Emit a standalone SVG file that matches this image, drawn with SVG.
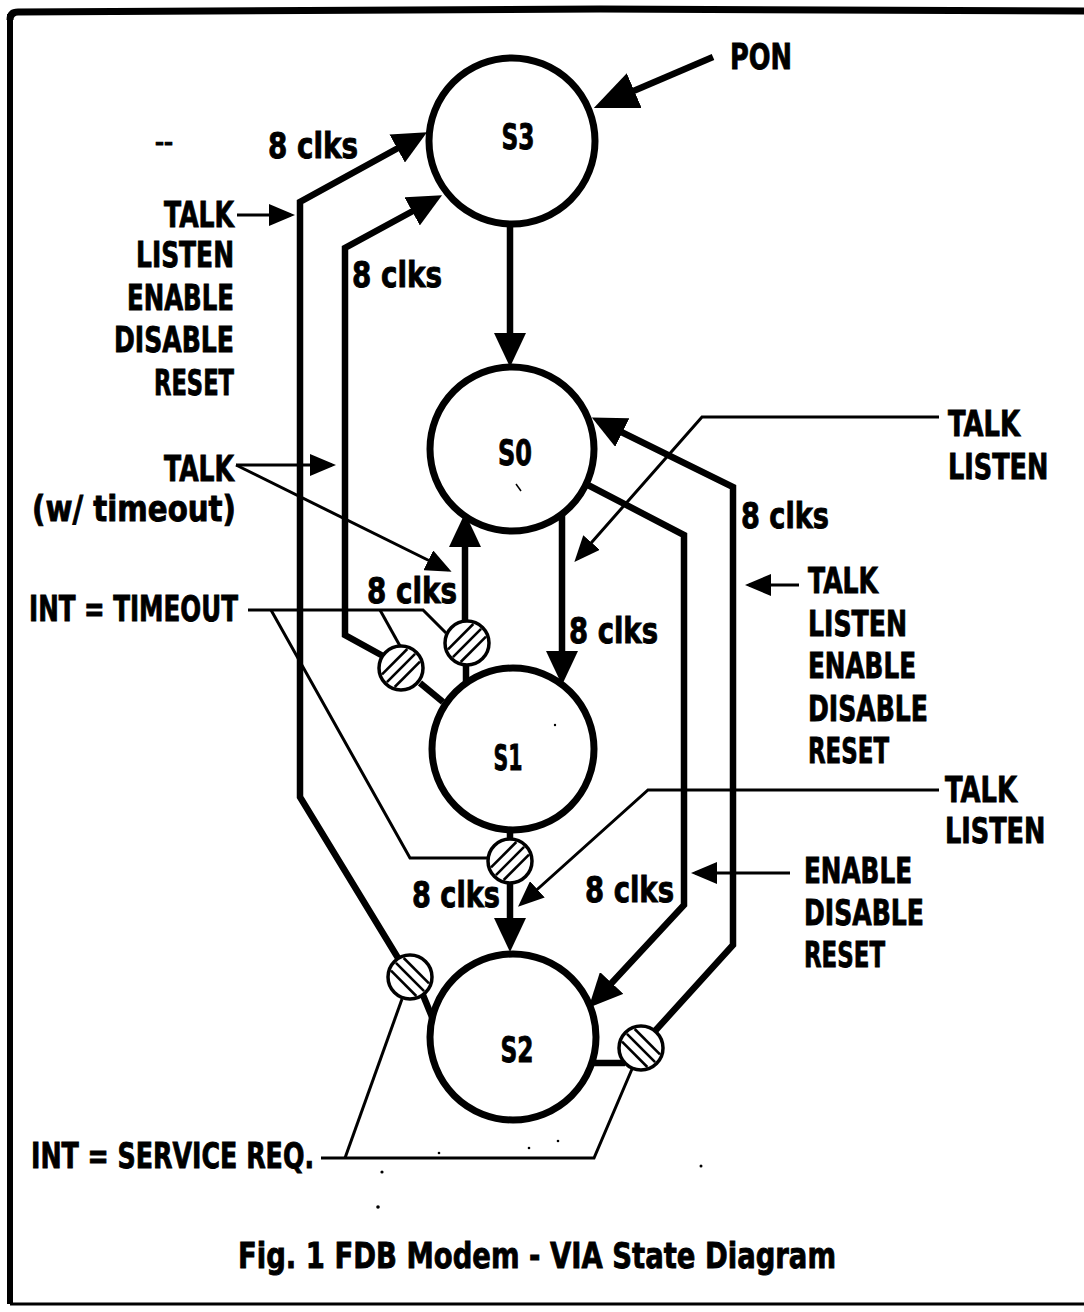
<svg xmlns="http://www.w3.org/2000/svg" xmlns:xlink="http://www.w3.org/1999/xlink" width="1084" height="1312" viewBox="0 0 1084 1312">
<style>
.big{fill:#fff;stroke:#000;stroke-width:7}
.hc{fill:#fff;stroke:#000;stroke-width:3.5}
.thick{fill:none;stroke:#000;stroke-width:6.5;stroke-linejoin:miter;stroke-miterlimit:10}
.thin{fill:none;stroke:#000;stroke-width:3}
.hl line{stroke:#000;stroke-width:2.6}
.frame{fill:none;stroke:#000}
text{font-family:'DejaVu Sans','Liberation Sans',sans-serif;font-weight:bold;font-size:35px;fill:#000;stroke:#000;stroke-width:0.9}
.mid{text-anchor:middle}
.end{text-anchor:end}
</style>
<defs>
<marker id="ah" viewBox="0 0 34 32" refX="26" refY="16" markerWidth="34" markerHeight="32" markerUnits="userSpaceOnUse" orient="auto"><path d="M0,0 L34,16 L0,32 z" fill="#000"/></marker>
<marker id="at" viewBox="0 0 26 22" refX="22" refY="11" markerWidth="26" markerHeight="22" markerUnits="userSpaceOnUse" orient="auto"><path d="M0,0 L26,11 L0,22 z" fill="#000"/></marker>
<marker id="ab" viewBox="0 0 44 38" refX="34" refY="19" markerWidth="44" markerHeight="38" markerUnits="userSpaceOnUse" orient="auto"><path d="M0,0 L44,19 L0,38 z" fill="#000"/></marker>
<g id="hf" class="hl"><line x1="-14.1" y1="14.1" x2="14.1" y2="-14.1"/><line x1="-6.3" y1="19" x2="19" y2="-6.3"/><line x1="-19" y1="6.3" x2="6.3" y2="-19"/></g>
<g id="hb" class="hl"><line x1="14.1" y1="14.1" x2="-14.1" y2="-14.1"/><line x1="6.3" y1="19" x2="-19" y2="-6.3"/><line x1="19" y1="6.3" x2="-6.3" y2="-19"/></g>
</defs>
<rect width="1084" height="1312" fill="#fff"/>
<g id="frame">
<path class="frame" stroke-width="7" d="M10,20 Q10,12 18,12 L600,9 L1084,11"/>
<path class="frame" stroke-width="6" d="M10,14 V1304"/>
<path class="frame" stroke-width="3" d="M10,1304 H1084"/>
</g>
<g id="connectors">
<path class="thick" stroke-width="7" marker-end="url(#ab)" d="M713,57 L603,104"/>
<path class="thick" marker-end="url(#ah)" d="M510,226 V359"/>
<path class="thick" marker-end="url(#ah)" d="M398,958 L300,797 V202 L420,136"/>
<path class="thick" d="M432,1017 L423,995"/>
<path class="thick" marker-end="url(#ah)" d="M383,656 L345,635 V248 L435,199"/>
<path class="thick" d="M443,702 L420,683"/>
<path class="thick" marker-end="url(#ah)" d="M465,621 V521"/>
<path class="thick" d="M466,684 V664"/>
<path class="thick" marker-end="url(#ah)" d="M562,514 V677"/>
<path class="thick" d="M510,829 V840"/>
<path class="thick" marker-end="url(#ah)" d="M510,882 V944"/>
<path class="thick" marker-end="url(#ah)" d="M586,484 L684,535 V905 L594,1002"/>
<path class="thick" d="M590,1063 H625"/>
<path class="thick" marker-end="url(#ah)" d="M655,1031 L733,945 V487 L599,421"/>
<path class="thin" marker-end="url(#at)" d="M237,215 H291"/>
<path class="thin" marker-end="url(#at)" d="M236,465 H332"/>
<path class="thin" marker-end="url(#at)" d="M236,465 L448,570"/>
<path class="thin" marker-end="url(#at)" d="M939,417 H702 L577,559"/>
<path class="thin" marker-end="url(#at)" d="M799,585 H749"/>
<path class="thin" marker-end="url(#at)" d="M939,790 H648 L521,904"/>
<path class="thin" marker-end="url(#at)" d="M790,873 H695"/>
<path class="thin" d="M248,610 H423 L446,633"/>
<path class="thin" d="M380,610 L400,646"/>
<path class="thin" d="M271,610 L410,858 H489"/>
<path class="thin" d="M321,1158 H594 L632,1069"/>
<path class="thin" d="M345,1158 L402,999"/>
</g>
<g id="S3"><circle class="big" cx="512" cy="141" r="83"/><text class="mid" x="518" y="149" textLength="33" lengthAdjust="spacingAndGlyphs">S3</text></g>
<g id="S0"><circle class="big" cx="512" cy="449" r="82"/><text class="mid" x="515" y="465" textLength="34" lengthAdjust="spacingAndGlyphs">S0</text></g>
<g id="S1"><circle class="big" cx="513" cy="749" r="81"/><text class="mid" x="508" y="770" textLength="29" lengthAdjust="spacingAndGlyphs">S1</text></g>
<g id="S2"><circle class="big" cx="513" cy="1037" r="83"/><text class="mid" x="517" y="1062" textLength="33" lengthAdjust="spacingAndGlyphs">S2</text></g>
<g id="int-a"><circle class="hc" cx="467" cy="643" r="22"/><use href="#hf" x="467" y="643"/></g>
<g id="int-b"><circle class="hc" cx="401" cy="668" r="22"/><use href="#hf" x="401" y="668"/></g>
<g id="int-c"><circle class="hc" cx="510" cy="861" r="22"/><use href="#hf" x="510" y="861"/></g>
<g id="int-d"><circle class="hc" cx="410" cy="977" r="22"/><use href="#hb" x="410" y="977"/></g>
<g id="int-e"><circle class="hc" cx="641" cy="1048" r="22"/><use href="#hb" x="641" y="1048"/></g>
<g id="labels">
<text x="730" y="69" textLength="62" lengthAdjust="spacingAndGlyphs">PON</text>
<text x="155" y="149" style="font-size:20px" textLength="18" lengthAdjust="spacingAndGlyphs">--</text>
<text x="268" y="158" textLength="90" lengthAdjust="spacingAndGlyphs">8 clks</text>
<text x="352" y="287" textLength="90" lengthAdjust="spacingAndGlyphs">8 clks</text>
<text x="367" y="603" textLength="90" lengthAdjust="spacingAndGlyphs">8 clks</text>
<text x="569" y="643" textLength="89" lengthAdjust="spacingAndGlyphs">8 clks</text>
<text x="741" y="528" textLength="88" lengthAdjust="spacingAndGlyphs">8 clks</text>
<text x="412" y="907" textLength="88" lengthAdjust="spacingAndGlyphs">8 clks</text>
<text x="585" y="902" textLength="89" lengthAdjust="spacingAndGlyphs">8 clks</text>
<text class="end" x="234" y="227" textLength="70" lengthAdjust="spacingAndGlyphs">TALK</text>
<text class="end" x="234" y="267" textLength="98" lengthAdjust="spacingAndGlyphs">LISTEN</text>
<text class="end" x="234" y="310" textLength="107" lengthAdjust="spacingAndGlyphs">ENABLE</text>
<text class="end" x="234" y="352" textLength="120" lengthAdjust="spacingAndGlyphs">DISABLE</text>
<text class="end" x="234" y="395" textLength="80" lengthAdjust="spacingAndGlyphs">RESET</text>
<text class="end" x="234" y="481" textLength="70" lengthAdjust="spacingAndGlyphs">TALK</text>
<text x="32" y="521" textLength="204" lengthAdjust="spacingAndGlyphs">(w/ timeout)</text>
<text x="29" y="621" textLength="209" lengthAdjust="spacingAndGlyphs">INT = TIMEOUT</text>
<text x="948" y="436" textLength="72" lengthAdjust="spacingAndGlyphs">TALK</text>
<text transform="translate(948,479) scale(0.73,1)" x="0" y="0">LISTEN</text>
<text x="808" y="593" textLength="70" lengthAdjust="spacingAndGlyphs">TALK</text>
<text x="808" y="636" textLength="99" lengthAdjust="spacingAndGlyphs">LISTEN</text>
<text x="808" y="678" textLength="108" lengthAdjust="spacingAndGlyphs">ENABLE</text>
<text x="808" y="721" textLength="120" lengthAdjust="spacingAndGlyphs">DISABLE</text>
<text x="808" y="763" textLength="81" lengthAdjust="spacingAndGlyphs">RESET</text>
<text x="945" y="802" textLength="72" lengthAdjust="spacingAndGlyphs">TALK</text>
<text transform="translate(945,843) scale(0.73,1)" x="0" y="0">LISTEN</text>
<text x="804" y="883" textLength="108" lengthAdjust="spacingAndGlyphs">ENABLE</text>
<text x="804" y="925" textLength="120" lengthAdjust="spacingAndGlyphs">DISABLE</text>
<text x="804" y="967" textLength="81" lengthAdjust="spacingAndGlyphs">RESET</text>
<text x="31" y="1168" textLength="283" lengthAdjust="spacingAndGlyphs">INT = SERVICE REQ.</text>
<text x="238" y="1268" textLength="598" lengthAdjust="spacingAndGlyphs">Fig. 1 FDB Modem - VIA State Diagram</text>
</g>
<g id="specks" fill="#000">
<circle cx="382" cy="1172" r="1.6"/><circle cx="378" cy="1207" r="1.8"/><circle cx="439" cy="1153" r="1.3"/><circle cx="529" cy="1148" r="1.3"/><circle cx="558" cy="1141" r="1.3"/><circle cx="701" cy="1166" r="1.5"/><circle cx="555" cy="725" r="1.2"/>
<path d="M516,484 L521,491" stroke="#000" stroke-width="1.5"/>
</g>
</svg>
